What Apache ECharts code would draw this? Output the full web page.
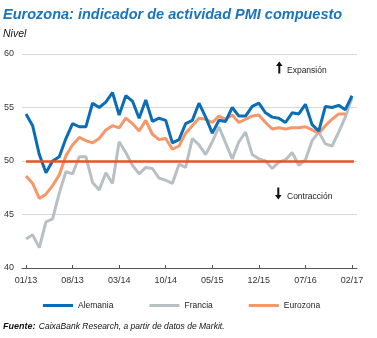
<!DOCTYPE html>
<html><head><meta charset="utf-8">
<script src="https://cdn.jsdelivr.net/npm/echarts@6/dist/echarts.min.js"></script>
<style>html,body{margin:0;padding:0;background:#fff}#c{width:377px;height:338px}</style>
</head><body><div id="c"></div>
<script>
const months = [
 '01/13','02/13','03/13','04/13','05/13','06/13','07/13','08/13','09/13','10/13','11/13','12/13',
 '01/14','02/14','03/14','04/14','05/14','06/14','07/14','08/14','09/14','10/14','11/14','12/14',
 '01/15','02/15','03/15','04/15','05/15','06/15','07/15','08/15','09/15','10/15','11/15','12/15',
 '01/16','02/16','03/16','04/16','05/16','06/16','07/16','08/16','09/16','10/16','11/16','12/16',
 '01/17','02/17'];
const tickLabels = ['01/13','08/13','03/14','10/14','05/15','12/15','07/16','02/17'];
const alemania = [
 54.4,53.3,50.6,48.9,50.0,50.4,52.1,53.5,53.2,53.2,55.4,55.0,
 55.5,56.4,54.3,56.1,55.6,54.0,55.7,53.7,54.0,53.8,51.7,52.0,
 53.5,53.8,55.4,54.1,52.6,53.8,53.7,55.0,54.2,54.2,55.1,55.4,
 54.5,54.1,54.0,53.6,54.5,54.4,55.3,53.4,52.8,55.1,55.0,55.2,
 54.8,56.1];
const francia = [
 42.7,43.1,41.9,44.3,44.6,47.0,49.0,48.8,50.4,50.4,48.0,47.3,
 48.9,47.9,51.8,50.8,49.6,48.8,49.4,49.3,48.4,48.2,47.9,49.7,
 49.4,52.1,51.5,50.6,51.8,53.2,51.7,50.2,51.8,52.7,50.6,50.2,
 50.0,49.3,49.9,50.1,50.8,49.6,50.1,51.9,52.7,51.6,51.4,52.7,
 54.1,55.9];
const eurozona = [
 48.6,47.9,46.5,46.9,47.7,48.7,50.5,51.5,52.2,51.9,51.7,52.1,
 52.9,53.3,53.1,54.0,53.5,52.8,53.8,52.5,52.0,52.1,51.1,51.4,
 52.6,53.3,54.0,53.9,53.6,54.2,53.9,54.3,53.6,53.9,54.2,54.3,
 53.6,53.0,53.1,53.0,53.1,53.1,53.2,52.9,52.6,53.3,53.9,54.4,
 54.4];
const threshold = 50;
const yTicks = [40,45,50,55,60];

const FONT = 'Liberation Sans';
const tickIdx = tickLabels.map(l => months.indexOf(l));
const toPairs = arr => arr.map((v, i) => [i, v]);
const lastIdx = months.length - 1;

const chart = echarts.init(document.getElementById('c'), null, {renderer: 'canvas'});
chart.setOption({
  animation: false,
  backgroundColor: '#fff',
  textStyle: {fontFamily: FONT},
  grid: {left: 22, right: 20, top: 54, bottom: 70, containLabel: false},
  xAxis: {
    type: 'value', min: -0.6, max: lastIdx + 0.75,
    axisLine: {show: true, lineStyle: {color: '#555', width: 1}},
    axisTick: {show: true, inside: true, length: 3, lineStyle: {color: '#555'}, customValues: tickIdx},
    axisLabel: {customValues: tickIdx, formatter: v => months[v] || '', color: '#333', fontSize: 9, margin: 8, fontFamily: FONT},
    splitLine: {show: false}
  },
  yAxis: {
    type: 'value', min: yTicks[0], max: yTicks[yTicks.length-1], interval: 5,
    axisLine: {show: false}, axisTick: {show: false},
    axisLabel: {color: '#333', fontSize: 9, margin: 8, fontFamily: FONT},
    splitLine: {lineStyle: {color: '#d9d9d9', width: 1}}
  },
  legend: {
    left: 38, top: 296, itemWidth: 30, itemHeight: 3, itemGap: 36,
    icon: 'rect',
    textStyle: {fontSize: 8.5, color: '#222', fontFamily: FONT},
    data: ['Alemania','Francia','Eurozona']
  },
  series: [
    {name: 'Alemania', type: 'line', data: toPairs(alemania), showSymbol: false, symbol: 'none', z: 4,
     lineStyle: {color: '#0a6db6', width: 3}, itemStyle: {color: '#0a6db6'},
     markLine: {silent: true, symbol: 'none', label: {show: false},
       lineStyle: {color: '#e2561f', width: 2.5, type: 'solid'},
       data: [[{coord: [0, threshold]}, {coord: [lastIdx + 0.3, threshold]}]]}},
    {name: 'Francia', type: 'line', data: toPairs(francia), showSymbol: false, symbol: 'none', z: 2,
     lineStyle: {color: '#b7c1c5', width: 3}, itemStyle: {color: '#b7c1c5'}},
    {name: 'Eurozona', type: 'line', data: toPairs(eurozona), showSymbol: false, symbol: 'none', z: 3,
     lineStyle: {color: '#f4986b', width: 3}, itemStyle: {color: '#f4986b'}}
  ],
  graphic: [
    {type: 'text', left: 3, top: 7, style: {text: 'Eurozona: indicador de actividad PMI compuesto',
      font: 'italic bold 14.5px "Liberation Sans"', fill: '#1a75bc'}},
    {type: 'text', left: 3, top: 29, style: {text: 'Nivel', font: 'italic 10.5px "Liberation Sans"', fill: '#111'}},
    {type: 'polygon', shape: {points: [[279.3,61.5],[282.6,66],[280.3,66],[280.3,73.5],[278.3,73.5],[278.3,66],[276,66]]}, style: {fill: '#111'}},
    {type: 'text', left: 287, top: 66, style: {text: 'Expansión', font: '8.5px "Liberation Sans"', fill: '#222'}},
    {type: 'polygon', shape: {points: [[278.3,199.5],[281.6,195],[279.3,195],[279.3,187.5],[277.3,187.5],[277.3,195],[275,195]]}, style: {fill: '#111'}},
    {type: 'text', left: 287, top: 192, style: {text: 'Contracción', font: '8.5px "Liberation Sans"', fill: '#222'}},
    {type: 'text', left: 3, top: 321, style: {
      text: '{b|Fuente:} {n|CaixaBank Research, a partir de datos de Markit.}',
      rich: {
        b: {font: 'italic bold 9px "Liberation Sans"', fill: '#111'},
        n: {font: 'italic 8.5px "Liberation Sans"', fill: '#111'}
      }}}
  ]
});
</script></body></html>
